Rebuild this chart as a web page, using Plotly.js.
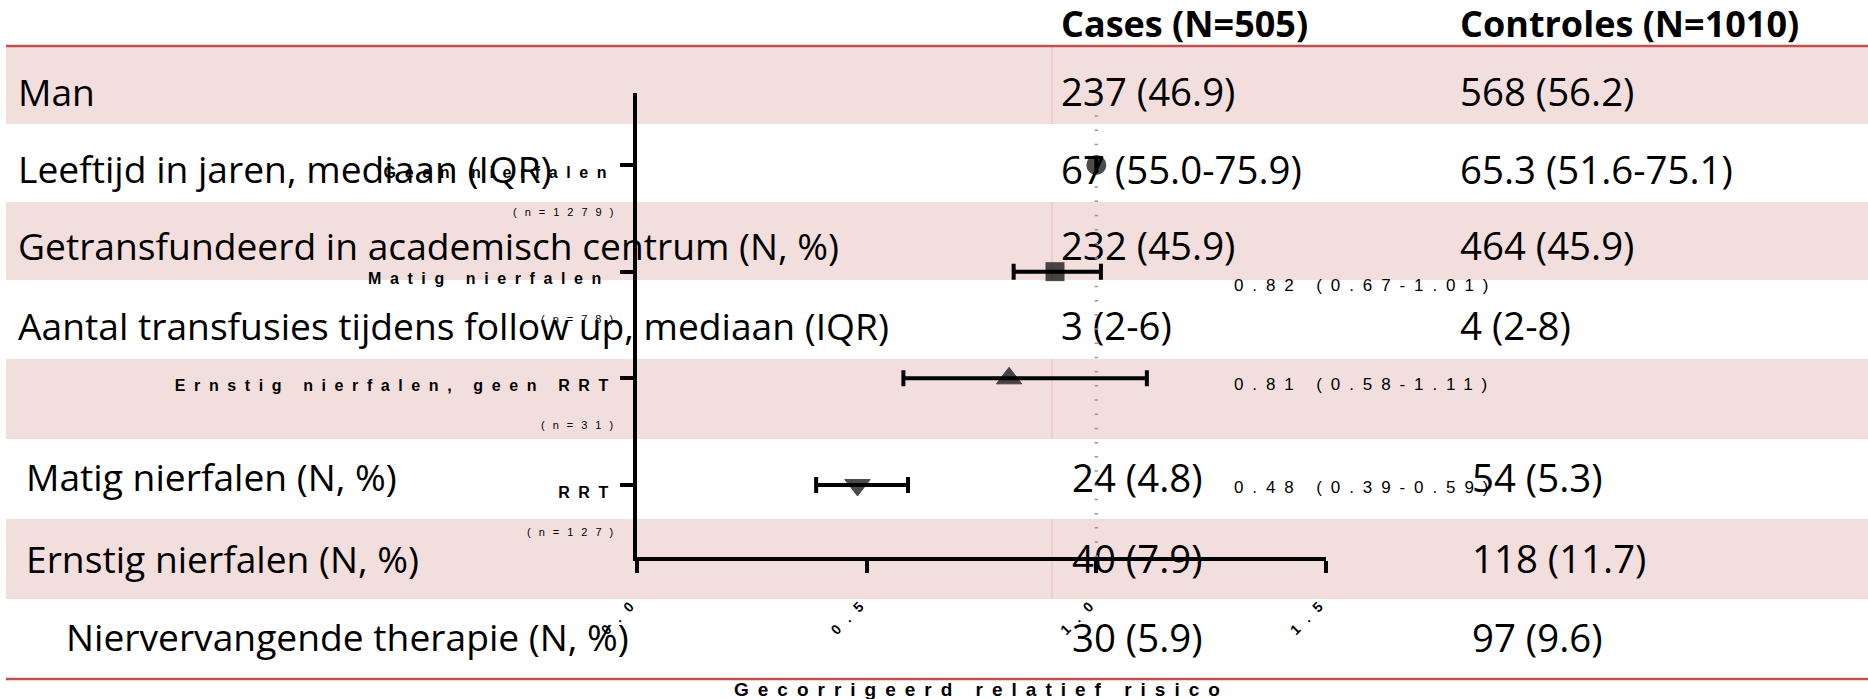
<!DOCTYPE html>
<html><head><meta charset="utf-8">
<script src="https://cdn.plot.ly/plotly-3.0.1.min.js"></script>
<style>html,body{margin:0;padding:0;background:#fff;}#chart{width:1868px;height:699px;}</style>
</head><body><div id="chart"></div>
<script>
// ---------- table data ----------
const headerCols = ["Cases (N=505)", "Controles (N=1010)"];
const rowLabels = ["Man", "Leeftijd in jaren, mediaan (IQR)", "Getransfundeerd in academisch centrum (N, %)",
  "Aantal transfusies tijdens follow up, mediaan (IQR)", "", "Matig nierfalen (N, %)",
  "Ernstig nierfalen (N, %)", "Niervervangende therapie (N, %)"];
const casesVals = ["237 (46.9)", "67 (55.0-75.9)", "232 (45.9)", "3 (2-6)", "", "24 (4.8)", "40 (7.9)", "30 (5.9)"];
const controlVals = ["568 (56.2)", "65.3 (51.6-75.1)", "464 (45.9)", "4 (2-8)", "", "54 (5.3)", "118 (11.7)", "97 (9.6)"];

// ---------- forest plot data ----------
const groups = ["Geen nierfalen", "Matig nierfalen", "Ernstig nierfalen, geen RRT", "RRT"];
const groupN = ["(n=1279)", "(n=78)", "(n=31)", "(n=127)"];
const rr = [1.0, 0.91, 0.81, 0.48];
const rrLow = [null, 0.82, 0.58, 0.39];
const rrHigh = [null, 1.01, 1.11, 0.59];
const rrText = ["", "0.82 (0.67-1.01)", "0.81 (0.58-1.11)", "0.48 (0.39-0.59)"];
const markerSymbols = ["circle", "square", "triangle-up", "triangle-down"];
const xTickVals = [0, 0.5, 1.0, 1.5];
const xTickText = ["0.0", "0.5", "1.0", "1.5"];
const xTitle = "Gecorrigeerd relatief risico";

// ---------- layout constants ----------
const W = 1868, H = 699;
const PLOT = {l: 637, r: 1326, t: 93, b: 557};
const bandEdges = [46, 124, 202, 280, 359, 439, 519, 599, 678];
const textYpx = [96.5, 174, 250.5, 330.5, null, 482, 563.5, 642];
const labelXpx = [18, 18, 18, 18, null, 26, 26, 66];
const casesXpx = [1061, 1061, 1061, 1061, null, 1072, 1072, 1072];
const controlsXpx = [1460, 1460, 1460, 1460, null, 1472, 1472, 1472];
const headerXpx = [1061, 1460];
const headerYpx = 28;
const TF = "Open Sans, Liberation Sans, sans-serif";
const FF = "Liberation Sans, Arial, sans-serif";
const yRange = [3.675, -0.675];
const rrTextDy = [0, 14, 6, 2];
const labelEndPx = [608, 603, 610, 610];
const LBL_SP = 8.6;

const idx = rowLabels.map((_, i) => i).filter(i => rowLabels[i] !== "");

const traces = [];
// table text (subplot xy, drawn under the forest plot)
traces.push({type: 'scatter', mode: 'text', xaxis: 'x', yaxis: 'y', hoverinfo: 'skip', cliponaxis: false,
  x: idx.map(i => labelXpx[i]), y: idx.map(i => textYpx[i]), text: idx.map(i => rowLabels[i]),
  textposition: 'middle right', textfont: {family: TF, size: 37.2, color: '#000'}, showlegend: false});
traces.push({type: 'scatter', mode: 'text', xaxis: 'x', yaxis: 'y', hoverinfo: 'skip', cliponaxis: false,
  x: idx.map(i => casesXpx[i]), y: idx.map(i => textYpx[i]), text: idx.map(i => casesVals[i]),
  textposition: 'middle right', textfont: {family: TF, size: 38.4, color: '#000'}, showlegend: false});
traces.push({type: 'scatter', mode: 'text', xaxis: 'x', yaxis: 'y', hoverinfo: 'skip', cliponaxis: false,
  x: idx.map(i => controlsXpx[i]), y: idx.map(i => textYpx[i]), text: idx.map(i => controlVals[i]),
  textposition: 'middle right', textfont: {family: TF, size: 38.4, color: '#000'}, showlegend: false});
traces.push({type: 'scatter', mode: 'text', xaxis: 'x', yaxis: 'y', hoverinfo: 'skip', cliponaxis: false,
  x: headerXpx, y: headerCols.map(() => headerYpx), text: headerCols,
  textposition: 'middle right', textfont: {family: TF, size: 36, color: '#000', weight: 700}, showlegend: false});

// forest markers with CI
const yIdx = groups.map((_, i) => i);
traces.push({type: 'scatter', mode: 'markers', xaxis: 'x2', yaxis: 'y2', x: rr, y: yIdx, showlegend: false,
  marker: {symbol: markerSymbols, size: [20, 19, 22, 22], color: '#000', line: {color: '#000', width: [0, 0, 1, 1]}},
  error_x: {type: 'data', symmetric: false,
    array: rr.map((v, i) => rrHigh[i] == null ? null : rrHigh[i] - v),
    arrayminus: rr.map((v, i) => rrLow[i] == null ? null : v - rrLow[i]),
    color: '#000', thickness: 4, width: 8},
  hovertext: groups, hoverinfo: 'x+text'});

const shapes = [];
for (let i = 0; i < bandEdges.length - 1; i += 2) {
  shapes.push({type: 'rect', xref: 'x', yref: 'y', x0: 6, x1: W, y0: bandEdges[i], y1: bandEdges[i + 1],
    fillcolor: '#F3DEDE', line: {width: 0}, layer: 'below'});
  shapes.push({type: 'line', xref: 'x', yref: 'y', x0: 1052, x1: 1052, y0: bandEdges[i], y1: bandEdges[i + 1],
    line: {color: '#E6BFC0', width: 1}, layer: 'below'});
}
shapes.push({type: 'line', xref: 'x', yref: 'y', x0: 6, x1: W, y0: 46, y1: 46, line: {color: '#C0504D', width: 2.5}, layer: 'above'});
shapes.push({type: 'line', xref: 'x', yref: 'y', x0: 6, x1: W, y0: 679, y1: 679, line: {color: '#C0504D', width: 2.5}, layer: 'above'});
// reference line at RR = 1
shapes.push({type: 'line', xref: 'x2', yref: 'y2', x0: 1, x1: 1, y0: yRange[0], y1: yRange[1],
  line: {color: '#9a9a9a', width: 3.5, dash: '1.5px,12.7px'}, layer: 'below'});

const ann = [], annSpacing = [];
groups.forEach((g, i) => {
  ann.push({xref: 'x2 domain', x: 0, xanchor: 'right', align: 'right', yref: 'y2', y: i, yanchor: 'middle',
    xshift: labelEndPx[i] - PLOT.l + LBL_SP, yshift: -7, text: g, showarrow: false,
    font: {family: FF, size: 16, weight: 700, color: '#000'}});
  annSpacing.push(LBL_SP);
  ann.push({xref: 'x2 domain', x: 0, xanchor: 'right', align: 'right', yref: 'y2', y: i, yanchor: 'middle',
    xshift: -14, yshift: -47, text: groupN[i], showarrow: false, font: {family: FF, size: 11, color: '#000'}});
  annSpacing.push(8);
  if (rrText[i]) {
    ann.push({xref: 'x2 domain', x: (1232 - PLOT.l) / (PLOT.r - PLOT.l), xanchor: 'left', align: 'left',
      yref: 'y2', y: i, yanchor: 'middle', yshift: -rrTextDy[i], text: rrText[i], showarrow: false,
      font: {family: FF, size: 17, color: '#000'}});
    annSpacing.push(8.9);
  }
});
ann.push({xref: 'x2 domain', x: 0.5, xanchor: 'center', align: 'center', yref: 'paper', y: 1 - 689 / H, yanchor: 'middle',
  xshift: 0, text: xTitle, showarrow: false, font: {family: FF, size: 19, weight: 700, color: '#000'}});
annSpacing.push(9);

const layout = {
  width: W, height: H, margin: {l: 0, r: 0, t: 0, b: 0, pad: 0},
  paper_bgcolor: '#fff', plot_bgcolor: 'rgba(0,0,0,0)', showlegend: false,
  xaxis: {domain: [0, 1], range: [0, W], visible: false, fixedrange: true},
  yaxis: {domain: [0, 1], range: [H, 0], visible: false, fixedrange: true},
  xaxis2: {domain: [PLOT.l / W, PLOT.r / W], anchor: 'y2', range: [0, 1.5], showgrid: false, zeroline: false,
    showline: true, linecolor: '#000', linewidth: 4, ticks: 'outside', ticklen: 12, tickwidth: 4, tickcolor: '#000',
    tickmode: 'array', tickvals: xTickVals, ticktext: xTickText, tickangle: -45, ticklabelstandoff: 13,
    tickfont: {family: FF, size: 14, weight: 700, color: '#000'}},
  yaxis2: {domain: [1 - PLOT.b / H, 1 - PLOT.t / H], anchor: 'x2', range: yRange, showgrid: false, zeroline: false,
    showline: true, linecolor: '#000', linewidth: 4, ticks: 'outside', ticklen: 13, tickwidth: 4, tickcolor: '#000',
    tickmode: 'array', tickvals: yIdx, showticklabels: false},
  shapes: shapes, annotations: ann
};

Plotly.newPlot('chart', traces, layout, {displayModeBar: false, staticPlot: true}).then(gd => {
  annSpacing.forEach((s, k) => {
    gd.querySelectorAll('g.annotation[data-index="' + k + '"] text.annotation-text').forEach(t => {
      t.style.letterSpacing = s + 'px';
    });
  });
  gd.querySelectorAll('g.x2tick text').forEach(t => { t.style.letterSpacing = '10px'; });
});
</script></body></html>
